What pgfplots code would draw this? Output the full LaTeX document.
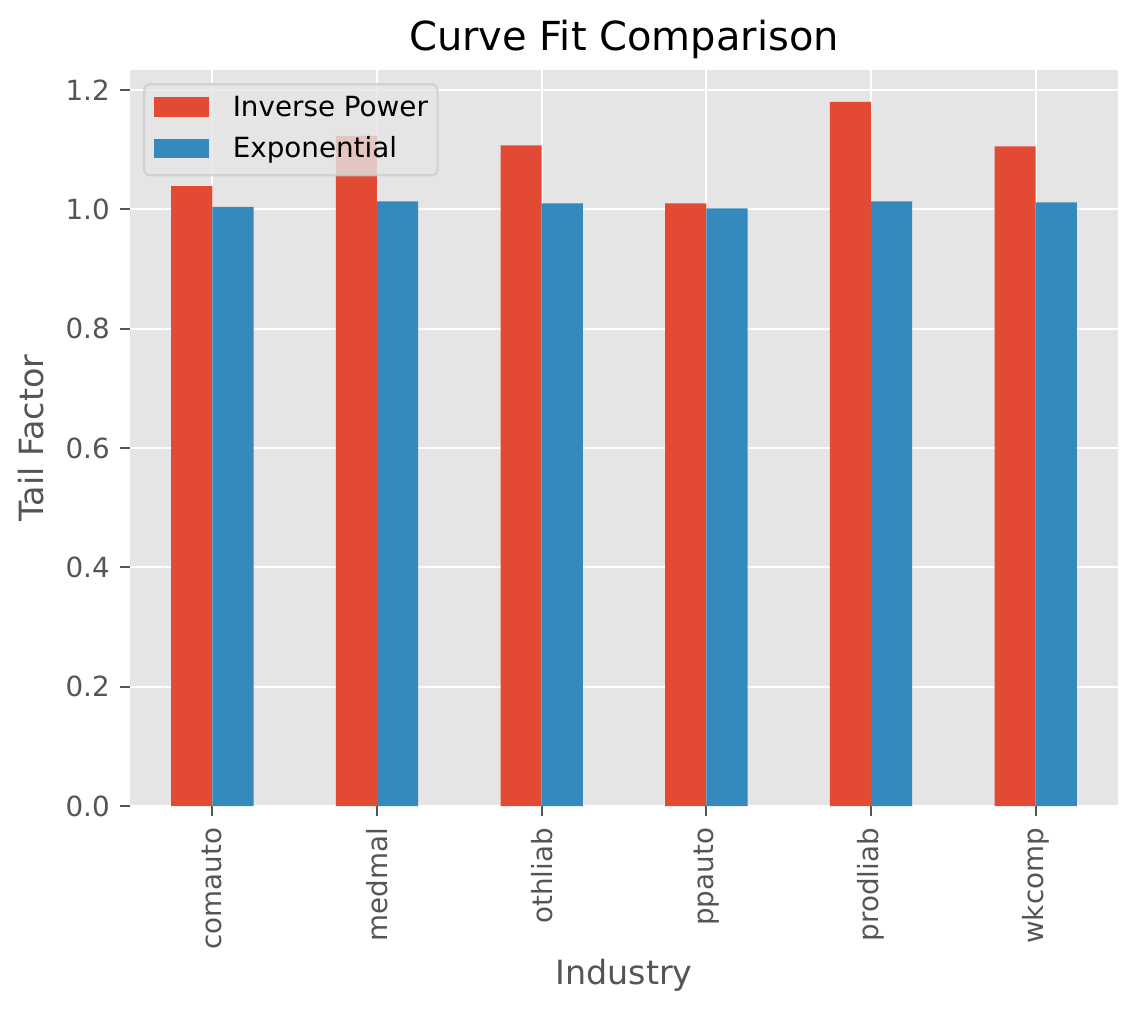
\documentclass[border=0pt]{standalone}
\usepackage{fontspec}
\setmainfont{DejaVu Sans}
\usepackage{pgfplots}
\pgfplotsset{compat=1.18}
\usetikzlibrary{calc}
\definecolor{ipred}{HTML}{E24A33}
\definecolor{exblue}{HTML}{348ABD}
\definecolor{bggray}{HTML}{E5E5E5}
\definecolor{tickgray}{HTML}{555555}
\definecolor{legedge}{HTML}{CCCCCC}
\begin{document}
\begin{tikzpicture}
\begin{axis}[
  name=ax,
  scale only axis,
  width=355.68pt, height=264.96pt,
  xmin=-0.5, xmax=5.5,
  ymin=0, ymax=1.2335,
  xtick={0,1,2,3,4,5},
  xticklabels={comauto,medmal,othliab,ppauto,prodliab,wkcomp},
  ytick={0,0.2,0.4,0.6,0.8,1.0,1.2},
  /pgf/number format/fixed,
  /pgf/number format/fixed zerofill,
  /pgf/number format/precision=1,
  /pgf/number format/assume math mode=true,
  axis background/.style={fill=bggray},
  axis line style={draw=none},
  grid=major,
  major grid style={white, line width=0.8pt},
  tick align=outside,
  tick pos=left,
  major tick length=3.5pt,
  tick style={tickgray, line width=0.8pt},
  ticklabel style={font=\fontsize{10}{12}\selectfont, text=tickgray},
  xticklabel style={rotate=90, anchor=east, inner ysep=0pt, inner xsep=4.2pt},
  yticklabel style={anchor=east, inner ysep=0pt, inner xsep=3.6pt},
  title={Curve Fit Comparison},
  title style={at={(axis description cs:0.5,1)}, anchor=base, yshift=0.9pt, inner sep=0pt, font=\fontsize{14.4}{17}\selectfont},
  xlabel={Industry},
  xlabel style={at={(axis description cs:0.5,0)}, anchor=base, yshift=-64.4pt, inner sep=0pt, font=\fontsize{12}{14}\selectfont, text=tickgray},
  ylabel={Tail Factor},
  ylabel style={at={($(axis description cs:0,0.5)+(-31.3pt,0pt)$)}, anchor=base, inner sep=0pt, font=\fontsize{12}{14}\selectfont, text=tickgray},
  legend style={at={(axis description cs:0,1)}, anchor=north west, xshift=4.7pt, yshift=-4.7pt,
    fill=bggray, fill opacity=0.8, text opacity=1, draw=legedge, draw opacity=0.8, line width=0.8pt,
    rounded corners=2pt, inner xsep=3.5pt, inner ysep=3.9pt, row sep=5pt, column sep=8.4pt,
    nodes={inner sep=0pt, text height=7.6pt, text depth=2.4pt, font=\fontsize{10}{12}\selectfont}},
  legend cell align=left,
  legend image code/.code={\path[#1, fill opacity=1, sharp corners] (0pt,-2.8pt) rectangle (20pt,4.2pt);},
  bar width=0.25,
]
\addplot[ybar, fill=ipred, draw=none, bar shift=-0.125] coordinates {
  (0,1.039) (1,1.123) (2,1.107) (3,1.010) (4,1.180) (5,1.1056)
};
\addlegendentry{Inverse Power}
\addplot[ybar, fill=exblue, draw=none, bar shift=0.125] coordinates {
  (0,1.004) (1,1.0134) (2,1.010) (3,1.0017) (4,1.0134) (5,1.0117)
};
\addlegendentry{Exponential}
\end{axis}
\pgfresetboundingbox
\path ($(ax.south west)+(-46.8pt,-74.16pt)$) rectangle ($(ax.north east)+(7.56pt,25.2pt)$);
\end{tikzpicture}
\end{document}
